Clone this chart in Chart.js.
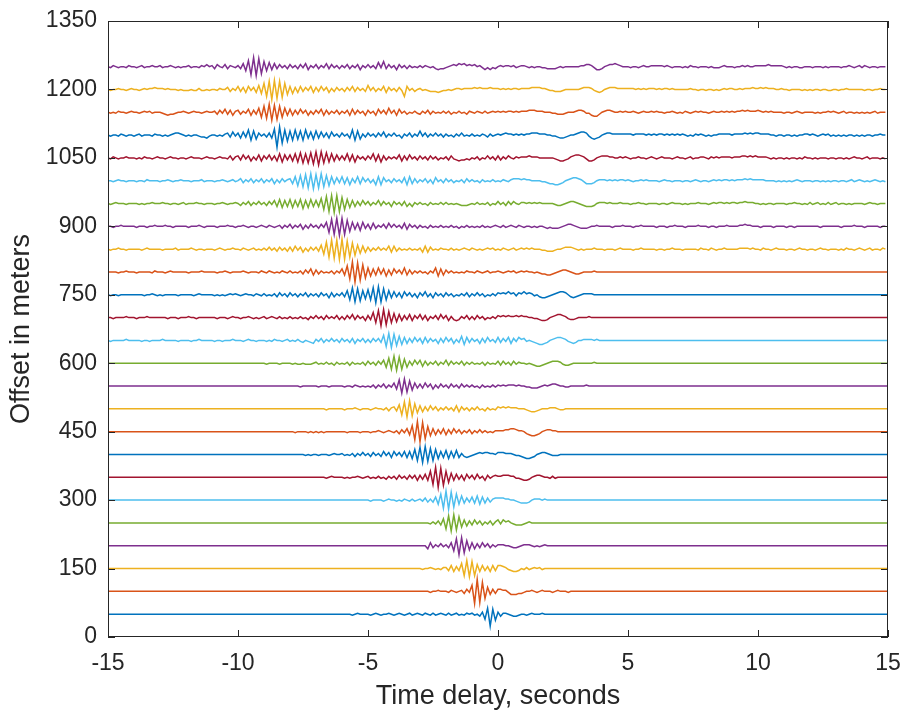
<!DOCTYPE html>
<html>
<head>
  <title>Offset vs time delay</title>
  <script src="https://cdn.jsdelivr.net/npm/chart.js"></script>
  <style>
    body { margin: 0; background: #fff; }
    #wrap { width: 904px; height: 713px; }
  </style>
</head>
<body>
<div id="wrap"><canvas id="traces" width="904" height="713"></canvas></div>
<script>
// trace offsets (m), one wiggle trace per offset
var OFFSETS = [50, 100, 150, 200, 250, 300, 350, 400, 450, 500, 550, 600, 650,
               700, 750, 800, 850, 900, 950, 1000, 1050, 1100, 1150, 1200, 1250];

// time (s) of the first sample of each trace; samples every SAMPLE_STEP s
var TRACE_START = [-6, -3, -3, -3, -3, -5, -7, -8, -8, -7, -8, -9, -15,
                   -15, -15, -15, -15, -15, -15, -15, -15, -15, -15, -15, -15];
var SAMPLE_STEP = 0.1;
// one code step of deflection, in meters of offset
var AMP_STEP = 2.2;

// deflection, one group of 10 samples per second
// 0-9 / A-C = 0..+12 steps, a-l = -1..-12 steps
var TRACE_CODES = [
  "0000a01000 0a010a0010 a010a01a01 0a10a1a010 a1a01a0a10 1a0b2e6l5f 2b110abba0 0a01000100",
  "0000a00100 0a10a01b2a 6lCk9g4c2b 2211acccbb a0010a0100 0a01000a00",
  "0a0010a0a1 1b3c2b5g8h 7g4c3b2c3b 3321abccb0 a1a0101a00",
  "000c3b1a2a 1b3e7i8g5d 3c2b3a2b1a 11100abba0 1110a0a010",
  "0000a1a2b4 f7h8g6d3c2 b3a2b1a2b1 3a3120abbb a010000000",
  "0a0000a010 0a0a10a1a0 1a2b1b3d6h 9i8g6d4c2b 3c4d3c2b12 2221100abc ccb0111010",
  "0000a01000 0a0a0010a0 1a0a1a0b1a 1b2a1b2a2c 2b3c6gAj9h 6e4c3b2c3a 2b3a1c2a12 1122211aab ccb0122100 a1a0000000",
  "000000a0a0 0a000a0100 1a0a1b1a2a 1b2a1b3a2c 3a2b3c3d5f 7h8g6f5d3c 4d3c4c1bcb a012122110 2221110aab cddcb01221 0aaa000000",
  "00a0000a0a 0a0a000000 00a0000a00 0a0010a010 a1b2a3c6hA j9g5d3c2b3 c2b3a2b1a2 b1a2a1a0a1 1112233211 0bcddcb012 2110000000",
  "0000a00000 0a00010a00 0a0100a1b1 2b4f7h8g5d 3c2b3a2b1a 2a1b3c2a1b 1a2a0b1a0a 2121211100 0abccba000 1110aa0000",
  "0000a00000 0a000a0000 0a00a10a0a 0a1b1a2b1a 3c6g7f5d3b 2b3a2c1b2a 1b2a1b2a1a 1a0b1a0a1a 1010111010 0aabbba010 122100aa00 0000100000",
  "0a0000a000 0a0aa0aaa0 1a0a1a0b1a 0a1b1a0a1b 2a1b2a3d5f 7g6f4d2b3a 3c2b1a2b1a 3b2a1a2b1a 1a0a1b1a0a 2b2a1b2a10 0a0abccba0 12221abba0 0000000100",
  "0a00000100 000a00a000 0100000a00 00a0010000 0a00a00010 00a0100a00 0a0a100a01 a0a1ab0abc 1a2b1a2a1b 2a1b2c1a2b 1b2a2b5f7g 6e4d3c2b3a 2c3b2a1c2b 3a2c1b4d3b 2a1c2b3a1b 3b2a3c2a31 2a0abcddcb 0123321abc b001111010",
  "00a0000100 0a00010000 000a000a00 0100a00000 00a000a010 0a0010a0a0 1a010a1a0a 1a0a1a0b1a 2a1b2a1a2b 1b2a3b2a1c 2b5e7h8g6e 4d3c2b3c2a 3b2c1a2b3a 2c1bcb1a2b 1b2a1b0a1a 2121211212 1100aabccb 0123321abb a000010000",
  "0a00a00000 0000a0010a 0a00000a00 000a010000 0a0a0a0101 0a0100a10a 1a0a1b2a1b 2a1b1a2b1a 1b2a1c2b1a 2b4e7g6f4d 5e7h8g6e4c 3b2c3a2b1c 2a3b1c2a1b 2a1b0a1a2b 1a2a1b0a1a 2121312a21 3121a0bccb a0123320bc ba01111000",
  "0000a00100 0a00000a10 00a0100000 0a00001000 00a0010a00 0010a000a1 0a10a0a10a 1a0a1b2a3c 2b1a0a1b1a 3c6gAj9h7f 4d3c4b3d2c 3a2b4c2b1a 1a0b1a4d3c 2a1a0a0a10 0a10a01a00 10a0101a01 0100a0abbc cba012210a bba0000100",
  "0a00100a00 000a010000 0a00001a00 0010a00a00 0a010a0010 0a10a01a0a 1a2a1b2a1b 2b3a2c1b2a 2b4e7h9i9j Aj8h6f4d3c 2b1a2a1a3c 3b1a0a1a0a 1c3c2a0a10 0a1a0a010a 10a0a0101a 0a10a01a01 0101000aab bba0012221 0a0a000100" +
    " 0a000a0100 00a0010000 0a00a00100 0a00000a10 0a10a00100 0001111010 0a100a0100 0a00a0100a 00a0100a00 0a0a100a01 0a01a00a10",
  "00a0010000 0a000a0010 00100a0000 0a00010a00 00a000100a 0010a00a01 0a10a01b1a 2b1a2c1b2a 1b2a4f7h8i 8h6e4c3d4b 2c3b1a2b3a 2a1b3c2a1b 1a0b1a0a1a 0a1a0b0a1a 0a0a1a0a01 0a1a010a10 a00a0a00ab abbba01221 0abbba0010 0000a00010" +
    " 00a0010000 0a000a0010 00a0000100 0a00a00010 0001121100 0a0000a000 0a00a00000 0000a00000 00a0000100 0a00000a00",
  "0a01000a00 00a0a00100 0100a00a01 a000100a00 0a0010a001 0b1a2b1a2a 1b2a3c4d3c 4d3c4e3d4c 3c5f7h8i8h 6f4d3c2b3a 2b1a3b2a1c 2a1b2c0c1a 1a0b1a0a1a 1a0a0abbba 0a1a0a1b0a 2a1b2a20a1 1010101000 00abba0122 10abcccb01 1101000100" +
    " 0a00100a00 00a00a0100 0a0a000100 0a01011010 1101121110 0a0a00a000 0a00100a0a 1a01a0a1a0 1a00a0a000 0a0100a000",
  "00a0100a00 0a00a10000 a0010a0010 00a0001a00 0a0010a01a 02b1a2b1a2 b1a2c1b2a1 2c4e5f6g7h 6g7f5e4c3b 4c3d2b4c3a 2b1d4d3a1b 2a1b3d4c2b 1a2b1c3a1b 2a1b0a1b2a 1a0b1a0a1a 0a10a12221 2110000aab ccddcb0123 321acccb01 1101010110 10a0010100" +
    " 00a0100a00 0a00a010a0 0a01010110 1011121211 1110000a0a 0a0a010a00 0a00a0a0a0 0a00a01a01 0a0a010a0a",
  "0a10a00100 0a0a100a01 00a0100a00 a01000a010 0a0100a2b1 2b3a2c1b3c 2a3b2c4d3b 3c4d5e4e5f 6g6e5d4c3b 2b4c3d2a1b 2a4c3d2b1a 1a3c2b3a1b 2a1b2a1b0a 1b2abcbbab 0a1b0a2a1b 2b1a20a101 1121110000 00abccba12 3321accb01 2221100101 0a00100a01" +
    " 0a01000a01 00a01a0011 0a10101111 0111221212 11110a0a00 a0a00a0a10 0a0a000a00 a00a0a0100 a01a000a0a",
  "0a00a10a00 a01a000a10 0a0a012210 a0a00abbca 00a0a12b3a 2c3b5e4d2a 1b2c6l8h5f 4e5d4e5c3d 4c3b2c3a1b 2a1c5e4d1b 2a1b2a3b1a 2a0c1a2b1a 4a2b1a2a1b 1a0b1a2a0a 1a0a10b1a0 1012110101 0112221110 0aabccba00 12332acdcb 0122111111 1101111010 1011010101" +
    " 010a0a1010 a0a0011111 0111121212 2111100a00 a00a0a0011 010a0101a0 a0a0a00a0a 0a00a00100",
  "0a0a100a01 00a0101a00 0abcbba001 0a0100a010 01b2a3b2c1 2b1a3c2b4e 6f8h7g6e4c 3c2b3a2c1b 2a3c2b1a2b 1a2c3b2a1c 2a1c3a2b4a 2c3a1b0a1a b1a2b1a0a1 a1b0a1a0b1 0a10a1a010 1010110101 1122211100 0aabbba000 1221aacddb 0122100101 0010a01001" +
    " 0100a0010a 0a10a01010 0a01001010 1011212111 2101010000 a00a010a00 00a0a00101 0a01a00a0a 0a0a01a000",
  "0a00100a01 00a0101121 1101000a0a aa0aa1aa0a 00a1002b1a 3b2c3a2c4d 6g8j9i8h6e 3d2c3b2a3c 2b3a2c1b2a 1b2a3b2a1b 4a2b1a3c2a 1b2ag3a1b0 1a0abbbcba a0a0110111 1212111211 1010101101 1112222110 aabbba0000 0012221abc b012221111 1110101011 1010110100" +
    " 0000100a00 a00a0a0101 1001011121 1212111001 00a0000a0a 0a00a00aa0 0a00100000 0a00a00100",
  "0a10a00a10 0a01a00100 1a0010a0a0 01a00a1020 1b20a2b10a 1b3d6h9i8g 5d4c3b2a1b 2a1b2a3c1a 2b1a3b2a1b 1a2b1a2c1a 2a1b4a5b2a 1c2a1b1a0a 1a10a0bcbb a012132312 1201acacab 0101101a01 10a0a00aab bbba0a0000 0011221acc b012232100 0a00a01001 1111010a00" +
    " 0a0a100a00 0a0aaa0100 0a00101001 1111211111 0a0a00aa00 0a000a0a00 00a0010a01 a10a00a000"
];

var X_MIN = -15, X_MAX = 15, X_STEP = 5;
var Y_MIN = 0, Y_MAX = 1350, Y_STEP = 150;

// matlab default line colour order
var COLORS = ['#0072BD', '#D95319', '#EDB120', '#7E2F8E', '#77AC30', '#4DBEEE', '#A2142F'];

function decode(c) {
  var k = c.charCodeAt(0);
  if (k >= 48 && k <= 57) return k - 48;        // 0-9
  if (k >= 65 && k <= 90) return k - 65 + 10;   // A.. = 10..
  return -(k - 97 + 1);                          // a.. = -1..
}

function buildTrace(i) {
  var codes = TRACE_CODES[i].replace(/\s+/g, '');
  var base = OFFSETS[i];
  var t0 = TRACE_START[i];
  var pts = [];
  if (t0 > X_MIN) pts.push({x: X_MIN, y: base});
  for (var j = 0; j < codes.length; j++) {
    var t = Math.round((t0 + j * SAMPLE_STEP) * 100) / 100;
    if (t > X_MAX) break;
    pts.push({x: t, y: base + decode(codes[j]) * AMP_STEP});
  }
  var tEnd = t0 + codes.length * SAMPLE_STEP;
  if (tEnd < X_MAX) {
    pts.push({x: tEnd, y: base});
    pts.push({x: X_MAX, y: base});
  }
  return pts;
}

var datasets = [];
// last trace first so that higher offsets sit on top, as in the original
for (var i = OFFSETS.length - 1; i >= 0; i--) {
  datasets.push({
    label: OFFSETS[i] + ' m',
    data: buildTrace(i),
    borderColor: COLORS[i % COLORS.length],
    borderWidth: 1.5,
    pointRadius: 0,
    fill: false,
    tension: 0
  });
}

var TEXT = '#262626';

// box round the axes with inward ticks on all four sides
var boxPlugin = {
  id: 'box',
  afterDraw: function(chart) {
    var ctx = chart.ctx, a = chart.chartArea;
    var xs = chart.scales.x, ys = chart.scales.y;
    var len = 7;
    ctx.save();
    ctx.strokeStyle = TEXT;
    ctx.lineWidth = 1;
    ctx.strokeRect(a.left + 0.5, a.top + 0.5, a.right - a.left - 1, a.bottom - a.top - 1);
    ctx.beginPath();
    xs.ticks.forEach(function(t) {
      var px = Math.round(xs.getPixelForValue(t.value)) + 0.5;
      ctx.moveTo(px, a.bottom); ctx.lineTo(px, a.bottom - len);
      ctx.moveTo(px, a.top); ctx.lineTo(px, a.top + len);
    });
    ys.ticks.forEach(function(t) {
      var py = Math.round(ys.getPixelForValue(t.value)) + 0.5;
      ctx.moveTo(a.left, py); ctx.lineTo(a.left + len, py);
      ctx.moveTo(a.right, py); ctx.lineTo(a.right - len, py);
    });
    ctx.stroke();
    ctx.restore();
  }
};

new Chart(document.getElementById('traces').getContext('2d'), {
  type: 'line',
  data: { datasets: datasets },
  options: {
    responsive: false,
    animation: false,
    devicePixelRatio: 1,
    layout: { padding: { top: 21, right: 16, left: 0, bottom: 0 } },
    plugins: { legend: { display: false }, tooltip: { enabled: false } },
    scales: {
      x: {
        type: 'linear',
        min: X_MIN, max: X_MAX,
        grid: { display: false, drawTicks: false },
        border: { display: false },
        ticks: { stepSize: X_STEP, padding: 13, color: TEXT, maxRotation: 0,
                 font: { family: 'Liberation Sans', size: 23 },
                 callback: function(v) { return String(v); } },
        title: { display: true, text: 'Time delay, seconds', color: TEXT,
                 padding: { top: 0, bottom: 0 },
                 font: { family: 'Liberation Sans', size: 27 } },
        afterFit: function(s) {
          s.height = 76;
          s.paddingLeft = 0;
          s.paddingRight = 0;
        }
      },
      y: {
        type: 'linear',
        min: Y_MIN, max: Y_MAX,
        grid: { display: false, drawTicks: false },
        border: { display: false },
        ticks: { stepSize: Y_STEP, padding: 11, color: TEXT,
                 font: { family: 'Liberation Sans', size: 23 },
                 callback: function(v) { return String(v); } },
        title: { display: true, text: 'Offset in meters', color: TEXT,
                 padding: { top: 5, bottom: 0 },
                 font: { family: 'Liberation Sans', size: 27 } },
        afterFit: function(s) {
          s.width = 108;
          s.paddingTop = 0;
          s.paddingBottom = 0;
        }
      }
    }
  },
  plugins: [boxPlugin]
});
</script>
</body>
</html>
